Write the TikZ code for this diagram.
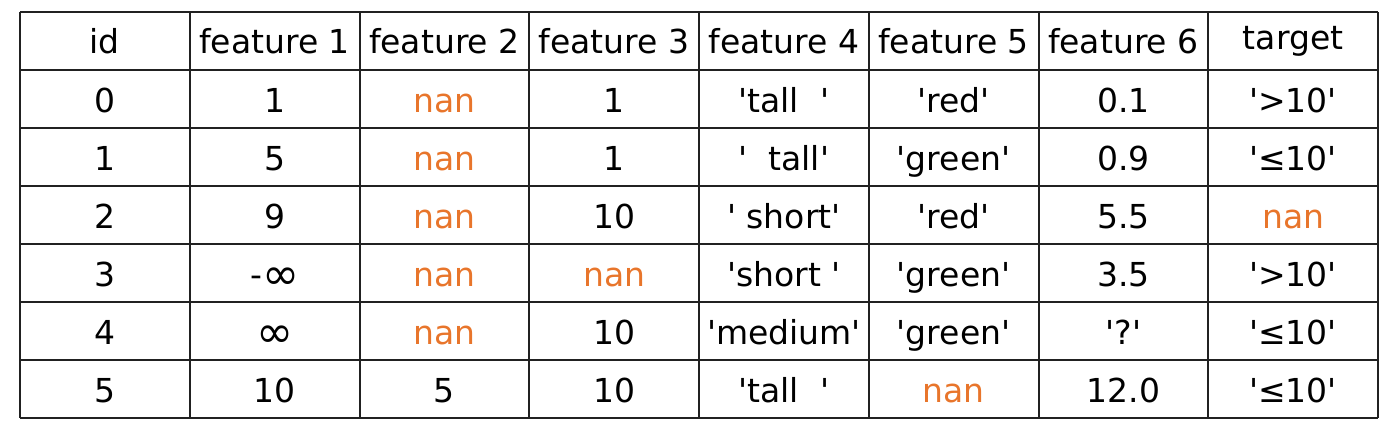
\documentclass[tikz,border=0pt]{standalone}
\usepackage{fontspec}
\setmainfont{DejaVu Sans}
\usepackage{graphicx}
\usepackage{tikz}
\definecolor{grille}{rgb}{0.13,0.13,0.13}
\definecolor{cnan}{rgb}{0.91,0.46,0.17}
\newcommand{\sq}{\textquotesingle}
\newcommand{\infy}{\raisebox{-0.1em}{\scalebox{1.35}{∞}}}
\newcommand{\cellsize}{\fontsize{33}{40}\selectfont}

\begin{document}
\begin{tikzpicture}[x=169.75pt, y=58pt, line width=2pt]
  \tikzstyle{head}=[font=\cellsize, text=black, inner sep=0pt]
  \tikzstyle{cell}=[font=\cellsize, text=black, inner sep=0pt, text height=33pt, text depth=5.6pt]
  \tikzstyle{miss}=[cell, text=cnan]

	\useasboundingbox (-0.1178,-0.2931) rectangle (8.1296,7.2069);
	\draw[grille, xstep=169.75pt, ystep=58pt] (0,0) grid (8,7);

	% header
	\node[head] (H0) at (0.5,6.5) {id};
	\node[head] (H1) at (1.5,6.5) {feature 1};
	\node[head] (H2) at (2.5,6.5) {feature 2};
	\node[head] (H3) at (3.5,6.5) {feature 3};
	\node[head] (H4) at (4.5,6.5) {feature 4};
	\node[head] (H5) at (5.5,6.5) {feature 5};
	\node[head] (H6) at (6.5,6.5) {feature 6};
	\node[head] (H7) at (7.5,6.5) {target};

	% row 0
	\node[cell] (A0) at (0.5,5.5) {0};
	\node[cell] (A1) at (1.5,5.5) {1};
	\node[miss] (A2) at (2.5,5.5) {nan};
	\node[cell] (A3) at (3.5,5.5) {1};
	\node[cell] (A4) at (4.5,5.5) {\sq tall\ \ \sq};
	\node[cell] (A5) at (5.5,5.5) {\sq red\sq};
	\node[cell] (A6) at (6.5,5.5) {0.1};
	\node[cell] (A7) at (7.5,5.5) {\sq>10\sq};

	% row 1
	\node[cell] (B0) at (0.5,4.5) {1};
	\node[cell] (B1) at (1.5,4.5) {5};
	\node[miss] (B2) at (2.5,4.5) {nan};
	\node[cell] (B3) at (3.5,4.5) {1};
	\node[cell] (B4) at (4.5,4.5) {\sq\ \ tall\sq};
	\node[cell] (B5) at (5.5,4.5) {\sq green\sq};
	\node[cell] (B6) at (6.5,4.5) {0.9};
	\node[cell] (B7) at (7.5,4.5) {\sq≤10\sq};

	% row 2
	\node[cell] (C0) at (0.5,3.5) {2};
	\node[cell] (C1) at (1.5,3.5) {9};
	\node[miss] (C2) at (2.5,3.5) {nan};
	\node[cell] (C3) at (3.5,3.5) {10};
	\node[cell] (C4) at (4.5,3.5) {\sq\ short\sq};
	\node[cell] (C5) at (5.5,3.5) {\sq red\sq};
	\node[cell] (C6) at (6.5,3.5) {5.5};
	\node[miss] (C7) at (7.5,3.5) {nan};

	% row 3
	\node[cell] (D0) at (0.5,2.5) {3};
	\node[cell] (D1) at (1.5,2.5) {-\infy};
	\node[miss] (D2) at (2.5,2.5) {nan};
	\node[miss] (D3) at (3.5,2.5) {nan};
	\node[cell] (D4) at (4.5,2.5) {\sq short\ \sq};
	\node[cell] (D5) at (5.5,2.5) {\sq green\sq};
	\node[cell] (D6) at (6.5,2.5) {3.5};
	\node[cell] (D7) at (7.5,2.5) {\sq>10\sq};

	% row 4
	\node[cell] (E0) at (0.5,1.5) {4};
	\node[cell] (E1) at (1.5,1.5) {\infy};
	\node[miss] (E2) at (2.5,1.5) {nan};
	\node[cell] (E3) at (3.5,1.5) {10};
	\node[cell] (E4) at (4.5,1.5) {\sq medium\sq};
	\node[cell] (E5) at (5.5,1.5) {\sq green\sq};
	\node[cell] (E6) at (6.5,1.5) {\sq?\sq};
	\node[cell] (E7) at (7.5,1.5) {\sq≤10\sq};

	% row 5
	\node[cell] (F0) at (0.5,0.5) {5};
	\node[cell] (F1) at (1.5,0.5) {10};
	\node[cell] (F2) at (2.5,0.5) {5};
	\node[cell] (F3) at (3.5,0.5) {10};
	\node[cell] (F4) at (4.5,0.5) {\sq tall\ \ \sq};
	\node[miss] (F5) at (5.5,0.5) {nan};
	\node[cell] (F6) at (6.5,0.5) {12.0};
	\node[cell] (F7) at (7.5,0.5) {\sq≤10\sq};

\end{tikzpicture}
\end{document}
